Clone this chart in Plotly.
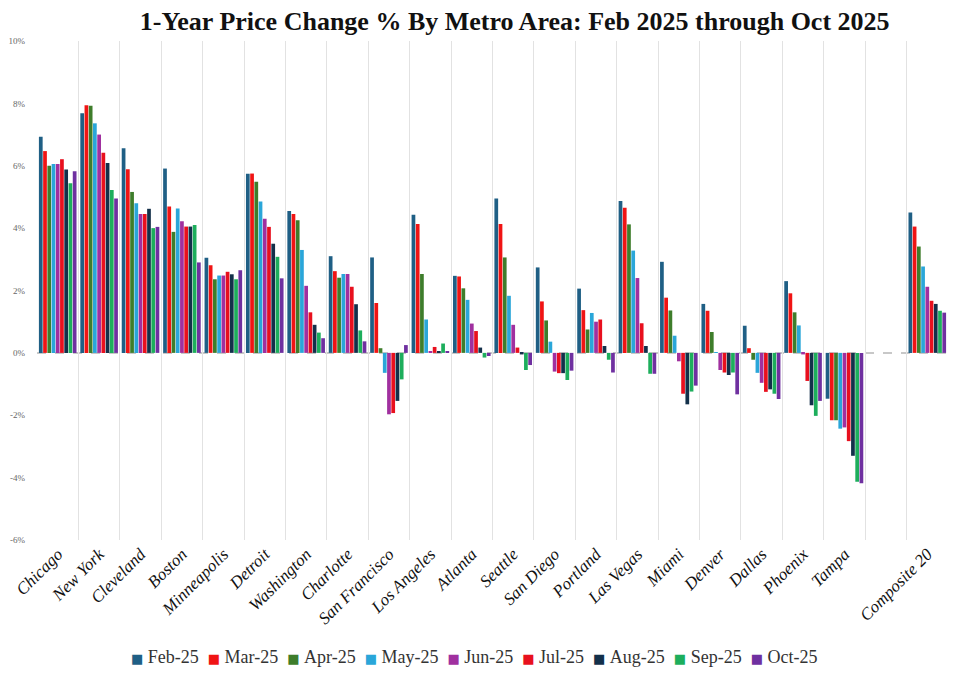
import plotly.graph_objects as go

metros = ["Chicago", "New York", "Cleveland", "Boston", "Minneapolis", "Detroit",
          "Washington", "Charlotte", "San Francisco", "Los Angeles", "Atlanta",
          "Seattle", "San Diego", "Portland", "Las Vegas", "Miami", "Denver",
          "Dallas", "Phoenix", "Tampa", " ", "Composite 20"]

months = ["Feb-25", "Mar-25", "Apr-25", "May-25", "Jun-25", "Jul-25",
          "Aug-25", "Sep-25", "Oct-25"]

colors = ["#1F5F85", "#F01414", "#3E7D2B", "#2AA6D9", "#A0309F",
          "#E8101E", "#13304A", "#1DAE5C", "#6F30A0"]

# values per metro, Feb..Oct (%), None for the blank slot
chicago = [6.93, 6.47, 6.00, 6.06, 6.06, 6.21, 5.88, 5.44, 5.82]
new_york = [7.68, 7.94, 7.92, 7.36, 7.00, 6.42, 6.09, 5.22, 4.95]
cleveland = [6.56, 5.89, 5.16, 4.80, 4.45, 4.45, 4.62, 4.00, 4.04]
boston = [5.91, 4.69, 3.88, 4.63, 4.22, 4.05, 4.05, 4.10, 2.90]
minneapolis = [3.05, 2.81, 2.36, 2.48, 2.48, 2.60, 2.52, 2.36, 2.65]
detroit = [5.74, 5.75, 5.49, 4.85, 4.30, 4.04, 3.50, 3.08, 2.39]
washington = [4.55, 4.45, 4.25, 3.30, 2.15, 1.30, 0.90, 0.65, 0.47]
charlotte = [3.10, 2.62, 2.41, 2.53, 2.53, 2.12, 1.56, 0.72, 0.37]
san_francisco = [3.06, 1.60, 0.15, -0.64, -1.97, -1.93, -1.54, -0.85, 0.25]
los_angeles = [4.43, 4.13, 2.53, 1.07, 0.05, 0.19, 0.03, 0.30, 0.05]
atlanta = [2.47, 2.45, 2.07, 1.70, 0.94, 0.70, 0.17, -0.15, -0.10]
seattle = [4.95, 4.13, 3.06, 1.83, 0.90, 0.17, -0.05, -0.55, -0.39]
san_diego = [2.74, 1.65, 1.04, 0.36, -0.60, -0.65, -0.65, -0.87, -0.57]
portland = [2.06, 1.37, 0.75, 1.28, 1.00, 1.07, 0.22, -0.22, -0.63]
las_vegas = [4.87, 4.65, 4.12, 3.28, 2.40, 0.95, 0.22, -0.67, -0.67]
miami = [2.92, 1.77, 1.36, 0.55, -0.27, -1.31, -1.65, -1.24, -1.05]
denver = [1.57, 1.35, 0.67, 0.02, -0.55, -0.63, -0.71, -0.63, -1.33]
dallas = [0.87, 0.15, -0.22, -0.64, -0.96, -1.25, -1.17, -1.31, -1.48]
phoenix = [2.30, 1.91, 1.30, 0.88, -0.05, -0.90, -1.68, -2.02, -1.54]
tampa = [-1.47, -2.16, -2.16, -2.43, -2.39, -2.83, -3.30, -4.13, -4.18]
blank = [None] * 9
composite_20 = [4.50, 4.05, 3.41, 2.77, 2.12, 1.67, 1.57, 1.35, 1.29]

rows = [chicago, new_york, cleveland, boston, minneapolis, detroit, washington,
        charlotte, san_francisco, los_angeles, atlanta, seattle, san_diego,
        portland, las_vegas, miami, denver, dallas, phoenix, tampa, blank,
        composite_20]

y_ticks = [-6, -4, -2, 0, 2, 4, 6, 8, 10]
y_tick_labels = ["-6%", "-4%", "-2%", "0%", "2%", "4%", "6%", "8%", "10%"]

fig = go.Figure()
for j, m in enumerate(months):
    fig.add_trace(go.Bar(
        x=metros,
        y=[r[j] for r in rows],
        name=m,
        marker=dict(color=colors[j], line=dict(width=0)),
        showlegend=False,
    ))

fig.add_shape(type="line", xref="paper", x0=0, x1=1, y0=0, y1=0, yref="y",
              line=dict(color="#C8C8C8", width=2, dash="dash"), layer="below")

# compact legend, built from the series names and colours
legend_text = "&nbsp; ".join(
    f"<span style='color:{c};font-size:13px;font-family:DejaVu Sans'>■</span>&nbsp;{m}"
    for m, c in zip(months, colors)
)
fig.add_annotation(text=legend_text, xref="paper", yref="paper", x=0.48, y=-0.2345,
                   xanchor="center", yanchor="middle", showarrow=False,
                   font=dict(family="Liberation Serif", size=18, color="#333333"))

fig.update_layout(
    width=956, height=698,
    paper_bgcolor="white", plot_bgcolor="white",
    barmode="group", bargap=0.08, bargroupgap=0.12,
    margin=dict(l=29, r=16, t=33, b=166, autoexpand=False),
    title=dict(text="<b>1-Year Price Change % By Metro Area: Feb 2025 through Oct 2025</b>",
               x=0.530, xanchor="center", y=0.995, yanchor="top",
               font=dict(family="Liberation Serif", size=26, color="#111111")),
    font=dict(family="Liberation Serif", color="#333333"),
    xaxis=dict(type="category", tickson="boundaries", showgrid=True,
               gridcolor="#E2E2E2", gridwidth=1, tickangle=-45, ticks="",
               automargin=False,
               tickfont=dict(family="Liberation Serif", size=17, style="italic",
                             color="#111111"),
               showline=False, zeroline=False, fixedrange=True),
    yaxis=dict(range=[-6, 10], tickvals=y_ticks, ticktext=y_tick_labels,
               showgrid=False, zeroline=False, showline=False, automargin=False,
               ticklabelstandoff=11,
               tickfont=dict(family="Liberation Serif", size=9, color="#666666"),
               ticks=""),
)

fig.write_html("out.html")
